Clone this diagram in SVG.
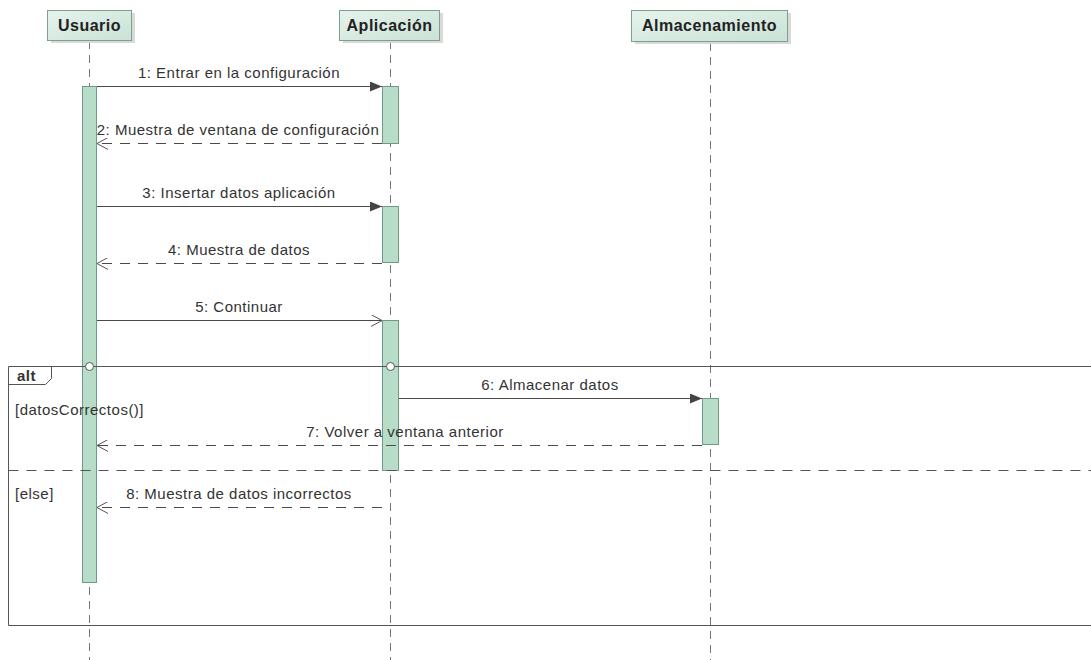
<svg xmlns="http://www.w3.org/2000/svg" width="1091" height="660" viewBox="0 0 1091 660">
  <defs>
    <linearGradient id="headFill" x1="0" y1="0" x2="1" y2="1">
      <stop offset="0" stop-color="#e6f3ec"/>
      <stop offset="1" stop-color="#c9e2d6"/>
    </linearGradient>
    <marker id="filled" viewBox="0 0 12 10" refX="12" refY="5" markerWidth="12" markerHeight="10" markerUnits="userSpaceOnUse" orient="auto">
      <path d="M0,0 L12,5 L0,10 Z" fill="#444"/>
    </marker>
    <marker id="open" viewBox="0 0 12 12" refX="11" refY="6" markerWidth="12" markerHeight="12" markerUnits="userSpaceOnUse" orient="auto">
      <path d="M0,0 L11,6 L0,12" fill="none" stroke="#555" stroke-width="1"/>
    </marker>
  </defs>
  <style>
    .head { fill: url(#headFill); stroke: #7d9f8e; stroke-width: 1; }
    .shadow { fill: #d9d9d9; }
    .htext { font-family: "Liberation Sans", Arial, sans-serif; font-size: 16px; letter-spacing: 0.5px; font-weight: bold; fill: #222; text-anchor: middle; }
    .life { stroke: #777; stroke-width: 1; stroke-dasharray: 8 6; fill: none; }
    .act { fill: #b7dcc8; stroke: #6f9a86; stroke-width: 1; }
    .msg { stroke: #4a4a4a; stroke-width: 1; fill: none; }
    .ret { stroke: #4a4a4a; stroke-width: 1; fill: none; stroke-dasharray: 10 8; }
    .label { font-family: "Liberation Sans", Arial, sans-serif; font-size: 15px; letter-spacing: 0.5px; fill: #333; text-anchor: middle; }
    .guard { font-family: "Liberation Sans", Arial, sans-serif; font-size: 15px; letter-spacing: 0.5px; fill: #333; }
    .frame { fill: none; stroke: #555; stroke-width: 1; }
    .sep { stroke: #555; stroke-width: 1; stroke-dasharray: 10 8; fill: none; }
  </style>

  <rect width="1091" height="660" fill="#ffffff"/>

  <!-- Lifelines -->
  <g id="lifelines">
    <line class="life" x1="89.5" y1="41" x2="89.5" y2="660"/>
    <line class="life" x1="390.5" y1="41" x2="390.5" y2="660"/>
    <line class="life" x1="710.5" y1="43" x2="710.5" y2="660"/>
  </g>

  <!-- Participants -->
  <g id="usuario">
    <rect class="shadow" x="51" y="13" width="84" height="30"/>
    <rect class="head" x="47.5" y="10.5" width="84" height="30"/>
    <text class="htext" x="89.5" y="31">Usuario</text>
  </g>
  <g id="aplicacion">
    <rect class="shadow" x="343" y="13" width="100" height="30"/>
    <rect class="head" x="339.5" y="10.5" width="100" height="30"/>
    <text class="htext" x="389.5" y="31">Aplicación</text>
  </g>
  <g id="almacenamiento">
    <rect class="shadow" x="635" y="13" width="156" height="31"/>
    <rect class="head" x="631.5" y="10.5" width="156" height="31"/>
    <text class="htext" x="709.5" y="31">Almacenamiento</text>
  </g>

  <!-- Activation bars -->
  <g id="activations">
    <rect class="act" x="82.5" y="86.5" width="14" height="496"/>
    <rect class="act" x="382.5" y="86.5" width="16" height="57"/>
    <rect class="act" x="382.5" y="206.5" width="16" height="56"/>
    <rect class="act" x="382.5" y="320.5" width="16" height="150"/>
    <rect class="act" x="702.5" y="398.5" width="16" height="46"/>
  </g>

  <!-- Combined fragment -->
  <g id="alt-fragment">
    <path class="frame" d="M8.5,366.5 H1091 M8.5,366.5 V625.5 H1091"/>
    <path class="frame" d="M8.5,384.5 H45.5 L51.5,378.5 V366.5"/>
    <text class="guard" x="17" y="381" font-weight="bold">alt</text>
    <line class="sep" x1="8.5" y1="470.5" x2="1091" y2="470.5"/>
    <text class="guard" x="15" y="415">[datosCorrectos()]</text>
    <text class="guard" x="15" y="499">[else]</text>
    <circle cx="89.5" cy="366.5" r="4" fill="#ffffff" stroke="#555" stroke-width="1"/>
    <circle cx="390.5" cy="366.5" r="4" fill="#ffffff" stroke="#555" stroke-width="1"/>
  </g>

  <!-- Messages -->
  <g id="connectors">
    <line class="msg" x1="97" y1="86.5" x2="382" y2="86.5" marker-end="url(#filled)"/>
    <text class="label" x="239" y="78">1: Entrar en la configuración</text>

    <line class="ret" x1="382" y1="143.5" x2="97" y2="143.5" marker-end="url(#open)"/>
    <text class="label" x="238" y="135">2: Muestra de ventana de configuración</text>

    <line class="msg" x1="97" y1="206.5" x2="382" y2="206.5" marker-end="url(#filled)"/>
    <text class="label" x="239" y="198">3: Insertar datos aplicación</text>

    <line class="ret" x1="382" y1="263.5" x2="97" y2="263.5" marker-end="url(#open)"/>
    <text class="label" x="239" y="255">4: Muestra de datos</text>

    <line class="msg" x1="97" y1="320.5" x2="382" y2="320.5" marker-end="url(#open)"/>
    <text class="label" x="239" y="312">5: Continuar</text>

    <line class="msg" x1="399" y1="398.5" x2="702" y2="398.5" marker-end="url(#filled)"/>
    <text class="label" x="550" y="390">6: Almacenar datos</text>

    <line class="ret" x1="702" y1="445.5" x2="97" y2="445.5" marker-end="url(#open)"/>
    <text class="label" x="405" y="437">7: Volver a ventana anterior</text>

    <line class="ret" x1="382" y1="507.5" x2="97" y2="507.5" marker-end="url(#open)"/>
    <text class="label" x="239" y="499">8: Muestra de datos incorrectos</text>
  </g>
</svg>
